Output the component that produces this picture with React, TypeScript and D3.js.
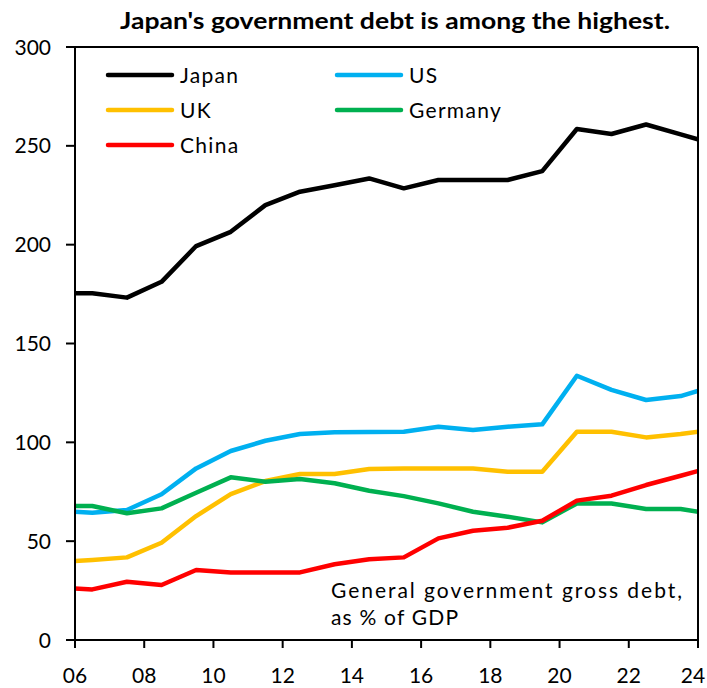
import React from "react";
import * as d3 from "d3";

const years = [2005, 2006, 2007, 2008, 2009, 2010, 2011, 2012, 2013, 2014, 2015, 2016, 2017, 2018, 2019, 2020, 2021, 2022, 2023, 2024];
const japan = [175.4, 175.4, 173.2, 181.2, 199.3, 206.5, 220.0, 226.8, 230.1, 233.5, 228.5, 232.7, 232.7, 232.7, 237.2, 258.5, 256.0, 260.8, 255.8, 250.8];
const us = [65.4, 64.4, 65.8, 73.7, 86.8, 95.6, 100.8, 104.2, 105.1, 105.2, 105.4, 107.9, 106.2, 107.9, 109.1, 133.7, 126.5, 121.4, 123.4, 128.6];
const uk = [39.5, 40.5, 41.8, 49.2, 62.7, 73.8, 80.4, 84.0, 84.0, 86.5, 86.8, 86.8, 86.8, 85.1, 85.1, 105.4, 105.4, 102.5, 104.2, 106.6];
const germany = [67.8, 67.8, 64.1, 66.6, 74.5, 82.3, 80.1, 81.4, 79.3, 75.5, 72.8, 69.1, 64.9, 62.4, 59.5, 69.1, 69.1, 66.3, 66.3, 63.5];
const china = [26.6, 25.6, 29.5, 27.8, 35.4, 34.2, 34.2, 34.2, 38.3, 40.8, 41.8, 51.4, 55.3, 56.8, 60.3, 70.5, 73.0, 78.4, 83.1, 87.9];

const seriesNames = ["Japan", "US", "UK", "Germany", "China"];
const seriesValues = [japan, us, uk, germany, china];
const seriesColors = ["#000000", "#00b0f0", "#ffc000", "#00b050", "#ff0000"];

const xTicks = [2006, 2008, 2010, 2012, 2014, 2016, 2018, 2020, 2022, 2024];
const yTicks = [0, 50, 100, 150, 200, 250, 300];

const title = "Japan's government debt is among the highest.";
const noteLines = ["General government gross debt,", "as % of GDP"];

const W = 707;
const H = 688;
const left = 75;
const right = 698;
const top = 47;
const bottom = 640;
const FONT = "Lato, 'Open Sans', sans-serif";

export default function App() {
  const x = d3.scaleLinear().domain([2006, 2024]).range([left, right]);
  const y = d3.scaleLinear().domain([0, 300]).range([bottom, top]);
  const line = d3
    .line<number>()
    .x((_, i) => x(years[i] + 0.5))
    .y((d) => y(d));

  const legendPos = [
    { lx: 108, ly: 75 },
    { lx: 337, ly: 75 },
    { lx: 108, ly: 110 },
    { lx: 337, ly: 110 },
    { lx: 108, ly: 145 },
  ];

  return (
    <svg
      width={W}
      height={H}
      style={{ position: "absolute", left: 0, top: 0, background: "#fff" }}
      fontFamily={FONT}
    >
      <defs>
        <clipPath id="plot">
          <rect x={left} y={top} width={right - left} height={bottom - top} />
        </clipPath>
      </defs>
      <rect x={0} y={0} width={W} height={H} fill="#fff" />
      <text
        x={120}
        y={29}
        fontSize={22}
        fontWeight="bold"
        fill="#000"
        textLength={550}
        lengthAdjust="spacingAndGlyphs"
      >
        {title}
      </text>

      <g clipPath="url(#plot)">
        {seriesValues.map((vals, i) => (
          <path
            key={seriesNames[i]}
            d={line(vals) || ""}
            fill="none"
            stroke={seriesColors[i]}
            strokeWidth={4.5}
            strokeLinejoin="round"
          />
        ))}
      </g>

      <line x1={left} y1={top} x2={right} y2={top} stroke="#000" strokeWidth={2} />
      <line x1={right} y1={top} x2={right} y2={bottom} stroke="#000" strokeWidth={2} />
      <line x1={left} y1={top} x2={left} y2={bottom} stroke="#000" strokeWidth={2} />
      <line x1={left} y1={bottom} x2={right} y2={bottom} stroke="#000" strokeWidth={2} />

      {yTicks.map((t) => (
        <g key={t}>
          <line x1={left - 9} x2={left} y1={y(t)} y2={y(t)} stroke="#000" strokeWidth={2} />
          <text x={51} y={y(t)} dy="0.36em" textAnchor="end" fontSize={21} fill="#000">
            {t}
          </text>
        </g>
      ))}

      {xTicks.map((t) => (
        <g key={t}>
          <line x1={x(t)} x2={x(t)} y1={bottom} y2={bottom + 8} stroke="#000" strokeWidth={2} />
          <text x={Math.min(x(t), W - 14)} y={683} textAnchor="middle" fontSize={21} fill="#000">
            {String(t % 100).padStart(2, "0")}
          </text>
        </g>
      ))}

      {seriesNames.map((n, i) => (
        <g key={n}>
          <line
            x1={legendPos[i].lx}
            x2={legendPos[i].lx + 64}
            y1={legendPos[i].ly}
            y2={legendPos[i].ly}
            stroke={seriesColors[i]}
            strokeWidth={4.5}
            strokeLinecap="round"
          />
          <text
            x={legendPos[i].lx + 72}
            y={legendPos[i].ly}
            dy="0.36em"
            fontSize={21}
            letterSpacing={1.3}
            fill="#000"
          >
            {n}
          </text>
        </g>
      ))}

      <text x={331} y={598} fontSize={21} fill="#000" textLength={351} lengthAdjust="spacing">
        {noteLines[0]}
      </text>
      <text x={331} y={625} fontSize={21} fill="#000" textLength={127} lengthAdjust="spacing">
        {noteLines[1]}
      </text>
    </svg>
  );
}
